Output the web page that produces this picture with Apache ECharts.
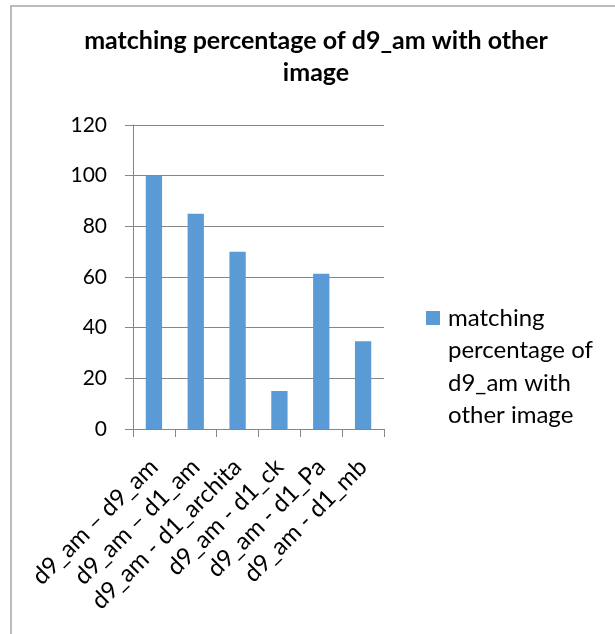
<!DOCTYPE html>
<html>
<head>
<meta charset="utf-8">
<style>
  html, body { margin: 0; padding: 0; background: #fff; }
  #chart { width: 615px; height: 634px; }
</style>
<script src="https://cdn.jsdelivr.net/npm/echarts@6/dist/echarts.min.js"></script>
</head>
<body>
<div id="chart"></div>
<script>
// Matching percentages of d9_am against the other images
const categories = [
  'd9_am \u2013 d9_am',
  'd9_am \u2013 d1_am',
  'd9_am - d1_archita',
  'd9_am - d1_ck',
  'd9_am - d1_Pa',
  'd9_am - d1_mb'
];
const matchValues = [100, 85, 70, 15, 61.3, 34.6];
const seriesName = 'matching percentage of d9_am with other image';
const yTicks = { min: 0, max: 120, interval: 20 };

const FONT = 'Lato, "Open Sans", sans-serif';
const LEGEND_LINE = 32.5;
const LEGEND_H = LEGEND_LINE * 4;
// Legend swatch: a 14px square near the top of a tall, otherwise empty icon box,
// so it sits level with the first line of the wrapped legend text.
const swatchIcon = 'path://M0,0 L0.01,0 M0,9 L14,9 L14,23 L0,23 Z M17,' + LEGEND_H + ' L16.99,' + LEGEND_H;

const chart = echarts.init(document.getElementById('chart'), null, { renderer: 'canvas' });

chart.setOption({
  backgroundColor: '#ffffff',
  animation: false,
  textStyle: { fontFamily: FONT, color: '#000' },
  title: {
    text: 'matching percentage of d9_am with other\nimage',
    left: 316,
    top: 25,
    padding: 0,
    textAlign: 'center',
    textStyle: { fontSize: 25, fontWeight: 'bold', color: '#000', lineHeight: 32, fontFamily: FONT }
  },
  legend: {
    left: 426,
    top: 302,
    padding: 0,
    orient: 'vertical',
    icon: swatchIcon,
    itemWidth: 17,
    itemHeight: LEGEND_H,
    formatter: () => 'matching\npercentage of\nd9_am with\nother image',
    textStyle: { fontSize: 24, lineHeight: LEGEND_LINE, color: '#000', fontFamily: FONT },
    data: [seriesName]
  },
  grid: { left: 133, right: 231, top: 125, bottom: 205, containLabel: false },
  xAxis: {
    type: 'category',
    data: categories,
    axisLine: { lineStyle: { color: '#868686', width: 1 } },
    axisTick: { show: true, length: 8, alignWithLabel: false, lineStyle: { color: '#868686' } },
    axisLabel: { rotate: 45, fontSize: 24, color: '#000', margin: 34, interval: 0, fontFamily: FONT }
  },
  yAxis: {
    type: 'value',
    min: yTicks.min,
    max: yTicks.max,
    interval: yTicks.interval,
    axisLine: { show: true, lineStyle: { color: '#868686', width: 1 } },
    axisTick: { show: true, length: 8, lineStyle: { color: '#868686' } },
    axisLabel: { fontSize: 21, color: '#000', margin: 26, fontFamily: FONT },
    splitLine: { show: true, lineStyle: { color: '#868686', width: 1 } }
  },
  series: [{
    name: seriesName,
    type: 'bar',
    data: matchValues,
    barWidth: '39%',
    itemStyle: { color: '#5B9BD5' }
  }],
  graphic: [{
    type: 'polyline',
    shape: { points: [[11, 640], [11, 6], [620, 6]] },
    style: { stroke: '#a6a6a6', lineWidth: 1.5, fill: null },
    silent: true
  }]
});
</script>
</body>
</html>
